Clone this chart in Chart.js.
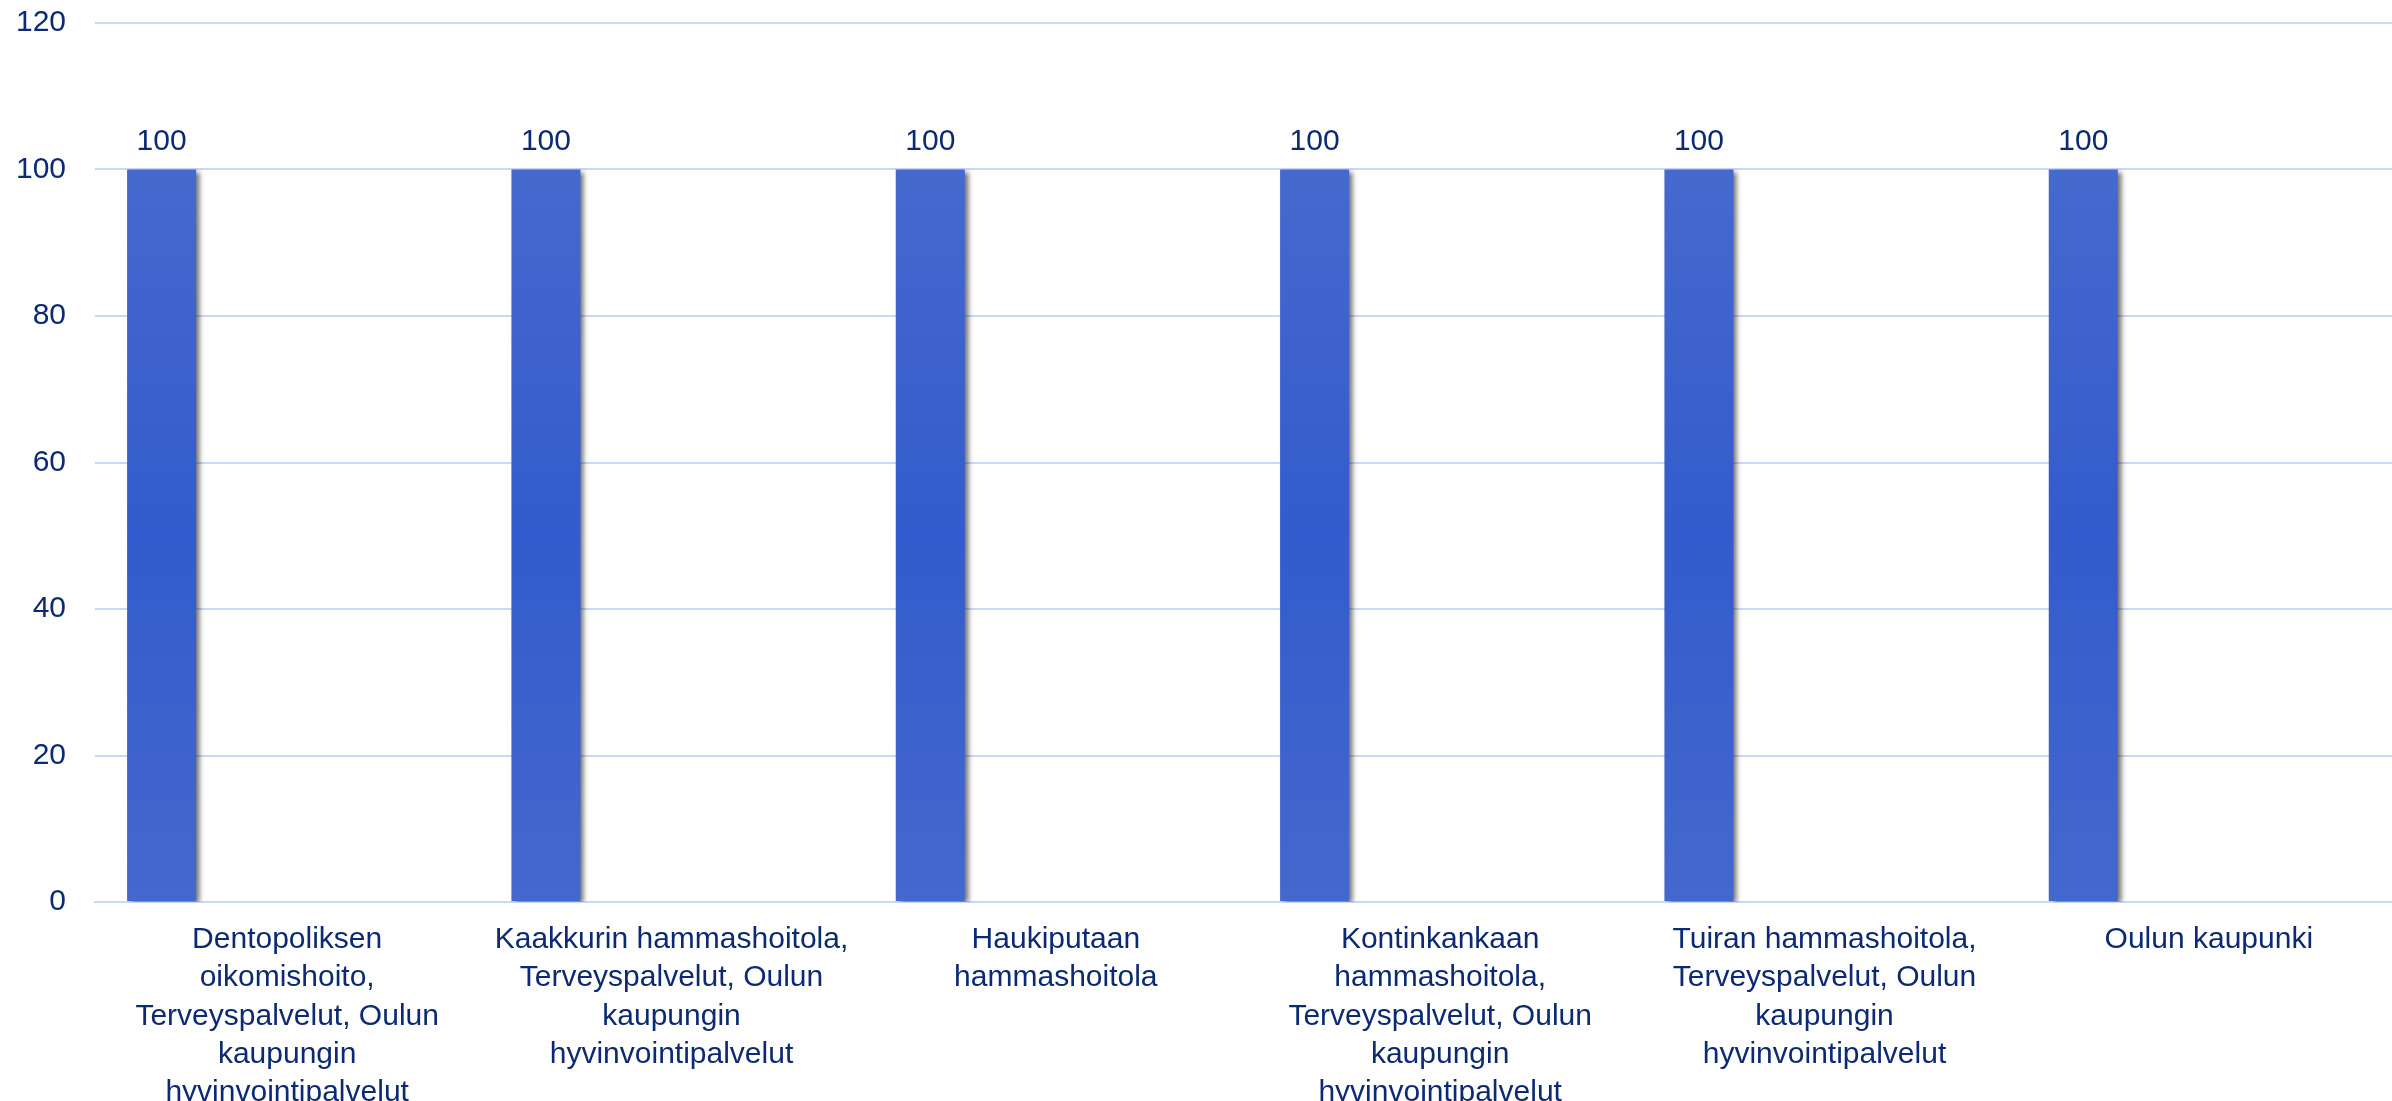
<!DOCTYPE html>
<html>
<head>
<meta charset="utf-8">
<script src="https://cdn.jsdelivr.net/npm/chart.js@4/dist/chart.umd.min.js"></script>
<style>
  html, body { margin: 0; padding: 0; background: #ffffff; overflow: hidden; }
  #wrap { width: 2401px; height: 1101px; }
</style>
</head>
<body>
<div id="wrap"><canvas id="chart"></canvas></div>
<script>
// -------------------- Data --------------------
const categories = [
  ["Dentopoliksen", "oikomishoito,", "Terveyspalvelut, Oulun", "kaupungin", "hyvinvointipalvelut"],
  ["Kaakkurin hammashoitola,", "Terveyspalvelut, Oulun", "kaupungin", "hyvinvointipalvelut"],
  ["Haukiputaan", "hammashoitola"],
  ["Kontinkankaan", "hammashoitola,", "Terveyspalvelut, Oulun", "kaupungin", "hyvinvointipalvelut"],
  ["Tuiran hammashoitola,", "Terveyspalvelut, Oulun", "kaupungin", "hyvinvointipalvelut"],
  ["Oulun kaupunki"]
];
const values = [100, 100, 100, 100, 100, 100];
const emptySeriesA = [null, null, null, null, null, null];
const emptySeriesB = [null, null, null, null, null, null];
const yTicks = [0, 20, 40, 60, 80, 100, 120];

const textColor = "#0c2a73";
const gridColor = "#c8d8fa";
const font = "'Liberation Sans', Arial, sans-serif";

// -------------------- Bar gradient --------------------
function barGradient(context) {
  const area = context.chart.chartArea;
  if (!area) return "#3a5fcd";
  const yScale = context.chart.scales.y;
  const top = yScale.getPixelForValue(100);
  const g = context.chart.ctx.createLinearGradient(0, top, 0, area.bottom);
  g.addColorStop(0, "#4669ce");
  g.addColorStop(0.5, "#335bcd");
  g.addColorStop(1, "#4468cd");
  return g;
}

// -------------------- Plugins --------------------
const barShadow = {
  id: "barShadow",
  beforeDatasetsDraw(chart) {
    const ctx = chart.ctx;
    ctx.save();
    ctx.shadowColor = "rgba(0,0,0,0.55)";
    ctx.shadowOffsetX = 4;
    ctx.shadowOffsetY = 2;
    ctx.shadowBlur = 5;
  },
  afterDatasetsDraw(chart) {
    chart.ctx.restore();
  }
};

const valueLabels = {
  id: "valueLabels",
  afterDatasetsDraw(chart) {
    const ctx = chart.ctx;
    const meta = chart.getDatasetMeta(0);
    ctx.save();
    ctx.fillStyle = textColor;
    ctx.font = "30px " + font;
    ctx.textAlign = "center";
    ctx.textBaseline = "middle";
    meta.data.forEach((bar, i) => {
      if (values[i] === null) return;
      ctx.fillText(String(values[i]), bar.x, bar.y - 28);
    });
    ctx.restore();
  }
};

// -------------------- Chart --------------------
new Chart(document.getElementById("chart"), {
  type: "bar",
  data: {
    labels: categories,
    datasets: [
      { data: values, backgroundColor: barGradient, borderWidth: 0 },
      { data: emptySeriesA, backgroundColor: "#3a5fcd" },
      { data: emptySeriesB, backgroundColor: "#3a5fcd" }
    ]
  },
  options: {
    responsive: true,
    maintainAspectRatio: false,
    animation: false,
    categoryPercentage: 0.98,
    barPercentage: 0.55,
    layout: { padding: { top: 23, left: 0, right: 0, bottom: 0 } },
    plugins: {
      legend: { display: false },
      tooltip: { enabled: false }
    },
    scales: {
      x: {
        grid: { display: false, drawTicks: false },
        border: { display: true, color: gridColor, width: 2 },
        ticks: {
          color: textColor,
          font: { family: font, size: 30, lineHeight: 1.27 },
          padding: 19,
          maxRotation: 0,
          autoSkip: false
        },
        afterFit(scale) { scale.height = 199; }
      },
      y: {
        min: 0,
        max: 120,
        grid: { color: gridColor, lineWidth: 2, drawTicks: false },
        border: { display: false },
        afterBuildTicks(scale) { scale.ticks = yTicks.map(v => ({ value: v })); },
        ticks: {
          color: textColor,
          font: { family: font, size: 30 },
          padding: 29
        },
        afterFit(scale) {
          scale.width = 95;
          scale.paddingTop = 0;
          scale.paddingBottom = 0;
        }
      }
    }
  },
  plugins: [barShadow, valueLabels]
});
</script>
</body>
</html>
